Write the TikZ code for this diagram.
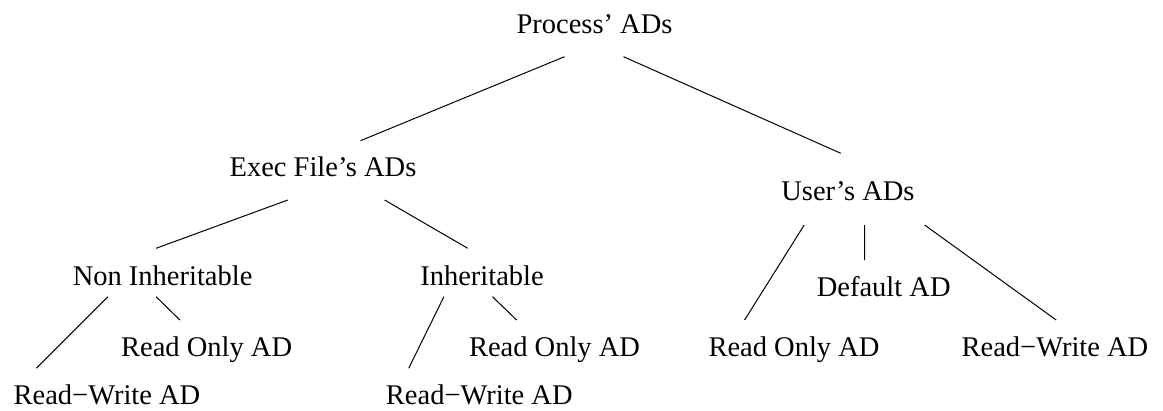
\documentclass[tikz,border=0pt]{standalone}
\usepackage{fontspec}
\setmainfont{Liberation Serif}
\begin{document}
\begin{tikzpicture}[x=1pt,y=-1pt,
  lbl/.style={anchor=base,inner sep=0pt,font=\fontsize{28.5}{34}\selectfont},
  edge/.style={line width=1pt,black}]
\useasboundingbox (0,0) rectangle (1163,410);
\node[lbl] (p)   at (594.5,33)  {Process’ ADs};
\node[lbl] (e)   at (323,176)   {Exec File’s ADs};
\node[lbl] (u)   at (848,200)   {User’s ADs};
\node[lbl] (ni)  at (162.6,285) {Non Inheritable};
\node[lbl] (in)  at (482,285)   {Inheritable};
\node[lbl] (nro) at (206.6,356.7) {Read Only AD};
\node[lbl] (nrw) at (107,404)   {Read−Write AD};
\node[lbl] (irw) at (479.3,404) {Read−Write AD};
\node[lbl] (iro) at (554.5,356.7) {Read Only AD};
\node[lbl] (ud)  at (883.7,296.7) {Default AD};
\node[lbl] (uro) at (794,356.7) {Read Only AD};
\node[lbl] (urw) at (1055,356.7) {Read−Write AD};
\draw[edge] ([shift={(-30,23.7)}]p.base) -- ([shift={(37.5,-35.3)}]e.base);
\draw[edge] ([shift={(29,23.7)}]p.base) -- ([shift={(-7.2,-46.7)}]u.base);
\draw[edge] ([shift={(-35.2,24)}]e.base) -- ([shift={(-6.5,-36.7)}]ni.base);
\draw[edge] ([shift={(61.6,24)}]e.base) -- ([shift={(-14.3,-36.7)}]in.base);
\draw[edge] ([shift={(-54.7,11.7)}]ni.base) -- ([shift={(-70.6,-35.7)}]nrw.base);
\draw[edge] ([shift={(-6.5,11.7)}]ni.base) -- ([shift={(-26.7,-36.7)}]nro.base);
\draw[edge] ([shift={(-38.1,11.7)}]in.base) -- ([shift={(-70.6,-35.7)}]irw.base);
\draw[edge] ([shift={(10.5,11.7)}]in.base) -- ([shift={(-37.9,-36.7)}]iro.base);
\draw[edge] ([shift={(-43.8,25)}]u.base) -- ([shift={(-49.4,-36.7)}]uro.base);
\draw[edge] ([shift={(16.6,25)}]u.base) -- ([shift={(-19.1,-36.7)}]ud.base);
\draw[edge] ([shift={(76.6,25)}]u.base) -- ([shift={(1.2,-36.7)}]urw.base);
\end{tikzpicture}
\end{document}
